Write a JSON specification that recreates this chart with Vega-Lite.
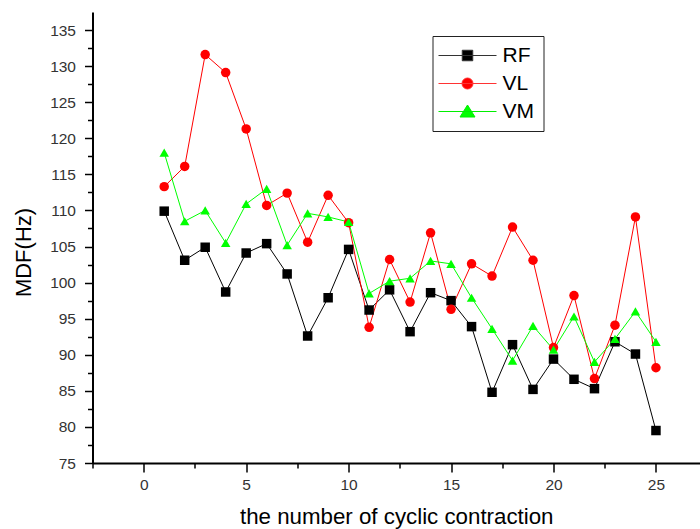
{
  "$schema": "https://vega.github.io/schema/vega-lite/v6.json",
  "autosize": {"type": "none"},
  "padding": {"left": 92.5, "top": 12, "right": 0, "bottom": 66},
  "width": 607.5,
  "height": 451,
  "background": "white",
  "config": {"view": {"stroke": null}},
  "data": {"values": [
    {"n":1,"series":"RF","mdf":109.9},{"n":2,"series":"RF","mdf":103.1},{"n":3,"series":"RF","mdf":104.9},{"n":4,"series":"RF","mdf":98.7},{"n":5,"series":"RF","mdf":104.1},
    {"n":6,"series":"RF","mdf":105.4},{"n":7,"series":"RF","mdf":101.2},{"n":8,"series":"RF","mdf":92.6},{"n":9,"series":"RF","mdf":97.9},{"n":10,"series":"RF","mdf":104.6},
    {"n":11,"series":"RF","mdf":96.2},{"n":12,"series":"RF","mdf":99.0},{"n":13,"series":"RF","mdf":93.2},{"n":14,"series":"RF","mdf":98.6},{"n":15,"series":"RF","mdf":97.5},
    {"n":16,"series":"RF","mdf":93.9},{"n":17,"series":"RF","mdf":84.8},{"n":18,"series":"RF","mdf":91.4},{"n":19,"series":"RF","mdf":85.2},{"n":20,"series":"RF","mdf":89.4},
    {"n":21,"series":"RF","mdf":86.6},{"n":22,"series":"RF","mdf":85.3},{"n":23,"series":"RF","mdf":91.8},{"n":24,"series":"RF","mdf":90.1},{"n":25,"series":"RF","mdf":79.5},
    {"n":1,"series":"VL","mdf":113.3},{"n":2,"series":"VL","mdf":116.1},{"n":3,"series":"VL","mdf":131.6},{"n":4,"series":"VL","mdf":129.1},{"n":5,"series":"VL","mdf":121.3},
    {"n":6,"series":"VL","mdf":110.7},{"n":7,"series":"VL","mdf":112.4},{"n":8,"series":"VL","mdf":105.6},{"n":9,"series":"VL","mdf":112.1},{"n":10,"series":"VL","mdf":108.3},
    {"n":11,"series":"VL","mdf":93.8},{"n":12,"series":"VL","mdf":103.2},{"n":13,"series":"VL","mdf":97.3},{"n":14,"series":"VL","mdf":106.9},{"n":15,"series":"VL","mdf":96.3},
    {"n":16,"series":"VL","mdf":102.6},{"n":17,"series":"VL","mdf":100.9},{"n":18,"series":"VL","mdf":107.7},{"n":19,"series":"VL","mdf":103.1},{"n":20,"series":"VL","mdf":91.0},
    {"n":21,"series":"VL","mdf":98.2},{"n":22,"series":"VL","mdf":86.7},{"n":23,"series":"VL","mdf":94.1},{"n":24,"series":"VL","mdf":109.1},{"n":25,"series":"VL","mdf":88.2},
    {"n":1,"series":"VM","mdf":118.0},{"n":2,"series":"VM","mdf":108.5},{"n":3,"series":"VM","mdf":110.0},{"n":4,"series":"VM","mdf":105.5},{"n":5,"series":"VM","mdf":110.9},
    {"n":6,"series":"VM","mdf":113.0},{"n":7,"series":"VM","mdf":105.2},{"n":8,"series":"VM","mdf":109.6},{"n":9,"series":"VM","mdf":109.1},{"n":10,"series":"VM","mdf":108.4},
    {"n":11,"series":"VM","mdf":98.5},{"n":12,"series":"VM","mdf":100.2},{"n":13,"series":"VM","mdf":100.6},{"n":14,"series":"VM","mdf":103.0},{"n":15,"series":"VM","mdf":102.6},
    {"n":16,"series":"VM","mdf":97.9},{"n":17,"series":"VM","mdf":93.6},{"n":18,"series":"VM","mdf":89.2},{"n":19,"series":"VM","mdf":94.0},{"n":20,"series":"VM","mdf":90.7},
    {"n":21,"series":"VM","mdf":95.3},{"n":22,"series":"VM","mdf":89.0},{"n":23,"series":"VM","mdf":92.2},{"n":24,"series":"VM","mdf":96.0},{"n":25,"series":"VM","mdf":91.8}
  ]},
  "encoding": {
    "x": {
      "field": "n", "type": "quantitative",
      "scale": {"domain": [-2.5, 27.15], "nice": false, "zero": false},
      "axis": {
        "title": "the number of cyclic contraction",
        "values": [-2.5, 0, 2.5, 5, 7.5, 10, 12.5, 15, 17.5, 20, 22.5, 25],
        "labelExpr": "datum.value % 5 === 0 ? datum.label : ''",
        "grid": false,
        "domainColor": "#000000", "domainWidth": 2,
        "tickColor": "#000000", "tickWidth": 1.5,
        "tickSize": {"condition": {"test": "datum.value % 5 === 0", "value": 9}, "value": 5},
        "labelFont": "Liberation Sans", "labelFontSize": 15.5, "labelColor": "#333333", "labelPadding": 5,
        "titleFont": "Liberation Sans", "titleFontSize": 22.3, "titleFontWeight": "normal", "titleColor": "#000000", "titlePadding": 13
      }
    },
    "y": {
      "field": "mdf", "type": "quantitative",
      "scale": {"domain": [75, 137.5], "nice": false, "zero": false},
      "axis": {
        "title": "MDF(Hz)",
        "values": [75, 77.5, 80, 82.5, 85, 87.5, 90, 92.5, 95, 97.5, 100, 102.5, 105, 107.5, 110, 112.5, 115, 117.5, 120, 122.5, 125, 127.5, 130, 132.5, 135],
        "labelExpr": "datum.value % 5 === 0 ? datum.label : ''",
        "grid": false,
        "domainColor": "#000000", "domainWidth": 2,
        "tickColor": "#000000", "tickWidth": 1.5,
        "tickSize": {"condition": {"test": "datum.value % 5 === 0", "value": 8}, "value": 5},
        "labelFont": "Liberation Sans", "labelFontSize": 15.5, "labelColor": "#333333", "labelPadding": 9,
        "titleFont": "Liberation Sans", "titleFontSize": 22, "titleFontWeight": "normal", "titleColor": "#000000",
        "titleX": -69.5, "titleY": 240, "titleAngle": -90, "titleAlign": "center", "titleBaseline": "middle"
      }
    }
  },
  "layer": [
    {
      "mark": {"type": "line", "strokeWidth": 1},
      "encoding": {
        "color": {"field": "series", "type": "nominal", "scale": {"domain": ["RF", "VL", "VM"], "range": ["#000000", "#ff0000", "#00ff00"]}, "legend": null}
      }
    },
    {
      "mark": {"type": "point", "filled": true, "opacity": 1},
      "encoding": {
        "color": {"field": "series", "type": "nominal", "scale": {"domain": ["RF", "VL", "VM"], "range": ["#000000", "#ff0000", "#00ff00"]}, "legend": null},
        "shape": {"field": "series", "type": "nominal", "scale": {"domain": ["RF", "VL", "VM"], "range": ["square", "circle", "triangle-up"]}, "legend": null},
        "size": {"field": "series", "type": "nominal", "scale": {"domain": ["RF", "VL", "VM"], "range": [90, 90, 150]}, "legend": null}
      }
    },
    {
      "mark": {"type": "point", "filled": true, "opacity": 0, "size": 100, "strokeWidth": 1},
      "encoding": {
        "color": {
          "field": "series", "type": "nominal",
          "scale": {"domain": ["RF", "VL", "VM"], "range": ["#000000", "#ff0000", "#00ff00"]},
          "legend": {
            "title": null,
            "orient": "none", "legendX": 340, "legendY": 24,
            "strokeColor": "#222222", "fillColor": "#ffffff", "padding": 9,
            "labelFont": "Liberation Sans", "labelFontSize": 21, "labelColor": "#000000",
            "symbolSize": 100, "symbolOffset": 15.5, "labelOffset": 24.5, "rowPadding": 6,
            "symbolStrokeWidth": 1, "symbolOpacity": 1
          }
        },
        "stroke": {
          "field": "series", "type": "nominal",
          "scale": {"domain": ["RF", "VL", "VM"], "range": ["#333333", "#ff3333", "#00ee00"]},
          "legend": {
            "title": null,
            "orient": "none", "legendX": 340, "legendY": 24,
            "strokeColor": "#222222", "fillColor": "#ffffff", "padding": 9,
            "labelFont": "Liberation Sans", "labelFontSize": 21, "labelColor": "#000000",
            "symbolSize": 100, "symbolOffset": 15.5, "labelOffset": 24.5, "rowPadding": 6,
            "symbolStrokeWidth": 1, "symbolOpacity": 1
          }
        },
        "shape": {
          "field": "series", "type": "nominal",
          "scale": {"domain": ["RF", "VL", "VM"], "range": [
            "M-5.8,0H5.8M-1.05,-1.05H1.05V1.05H-1.05Z",
            "M-5.8,0H5.8M1.1,0A1.1,1.1,0,1,1,-1.1,0A1.1,1.1,0,1,1,1.1,0Z",
            "M-5.8,0H5.8M0,-1.3L1.5,1.1H-1.5Z"
          ]},
          "legend": {
            "title": null,
            "orient": "none", "legendX": 340, "legendY": 24,
            "strokeColor": "#222222", "fillColor": "#ffffff", "padding": 9,
            "labelFont": "Liberation Sans", "labelFontSize": 21, "labelColor": "#000000",
            "symbolSize": 100, "symbolOffset": 15.5, "labelOffset": 24.5, "rowPadding": 6,
            "symbolStrokeWidth": 1, "symbolOpacity": 1
          }
        }
      }
    }
  ],
  "resolve": {
    "scale": {"shape": "independent", "color": "independent", "stroke": "independent"},
    "legend": {"shape": "independent", "color": "independent", "stroke": "independent"}
  }
}
